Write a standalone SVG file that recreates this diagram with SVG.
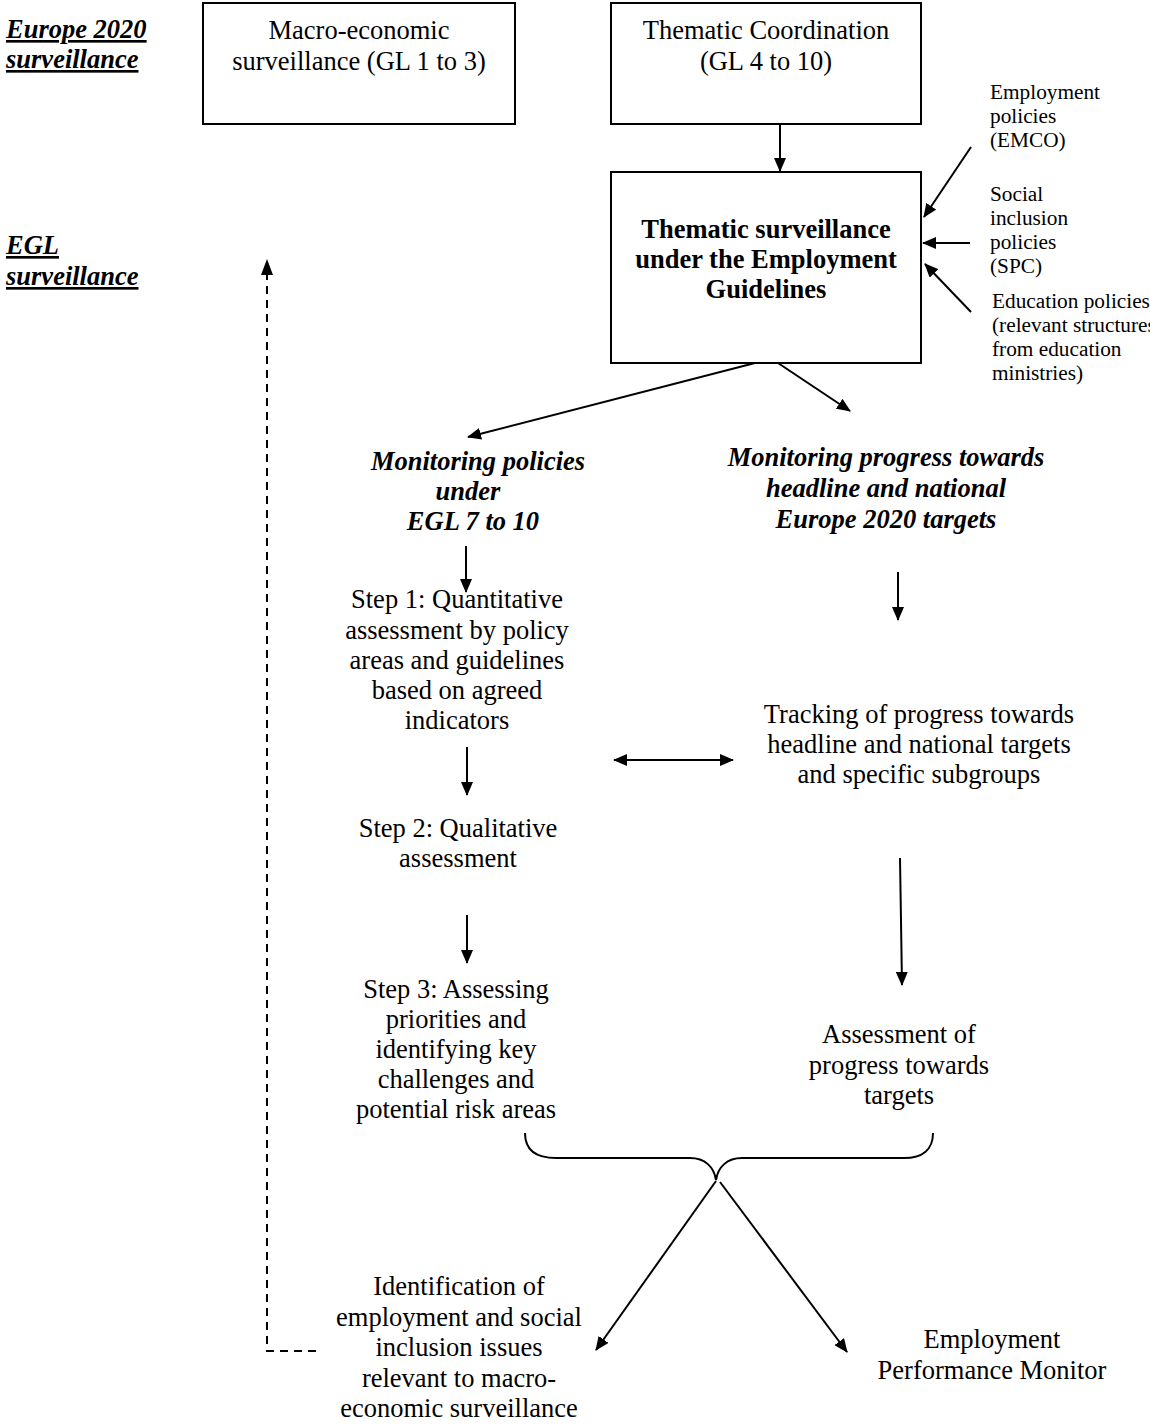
<svg xmlns="http://www.w3.org/2000/svg" width="1150" height="1426" viewBox="0 0 1150 1426">
<defs>
<marker id="ah" viewBox="0 0 14 12" refX="13" refY="6" markerWidth="14" markerHeight="12" markerUnits="userSpaceOnUse" orient="auto-start-reverse">
<path d="M0,0 L14,6 L0,12 z" fill="#000"/>
</marker>
<style>
text{font-family:"Liberation Serif","Times New Roman",serif;fill:#000}
.t{font-size:26.5px;text-anchor:middle}
.b{font-weight:bold}
.bi{font-weight:bold;font-style:italic}
.hd{font-size:26.5px;font-weight:bold;font-style:italic;text-decoration:underline}
.s{font-size:21.3px}
.box{fill:#fff;stroke:#000;stroke-width:2}
.c{fill:none;stroke:#000;stroke-width:2}
.a{marker-end:url(#ah)}
.d{fill:none;stroke:#000;stroke-width:2;stroke-dasharray:8,6}
</style>
</defs>
<rect width="1150" height="1426" fill="#fff"/>

<g id="label-europe2020">
<text class="hd" x="6" y="38">Europe 2020</text>
<text class="hd" x="6" y="68">surveillance</text>
</g>
<g id="label-egl">
<text class="hd" x="6" y="254">EGL</text>
<text class="hd" x="6" y="285">surveillance</text>
</g>

<g id="node-macro">
<rect class="box" x="203" y="3" width="312" height="121"/>
<text class="t" x="359" y="39">Macro-economic</text>
<text class="t" x="359" y="70">surveillance (GL 1 to 3)</text>
</g>

<g id="node-thematic-coordination">
<rect class="box" x="611" y="3" width="310" height="121"/>
<text class="t" x="766" y="39">Thematic Coordination</text>
<text class="t" x="766" y="70">(GL 4 to 10)</text>
</g>

<g id="node-thematic-surveillance">
<rect class="box" x="611" y="172" width="310" height="191"/>
<text class="t b" x="766" y="238">Thematic surveillance</text>
<text class="t b" x="766" y="268">under the Employment</text>
<text class="t b" x="766" y="298">Guidelines</text>
</g>

<g id="node-emco">
<text class="s" x="990" y="99">Employment</text>
<text class="s" x="990" y="123">policies</text>
<text class="s" x="990" y="147">(EMCO)</text>
</g>
<g id="node-spc">
<text class="s" x="990" y="201">Social</text>
<text class="s" x="990" y="225">inclusion</text>
<text class="s" x="990" y="249">policies</text>
<text class="s" x="990" y="273">(SPC)</text>
</g>
<g id="node-education">
<text class="s" x="992" y="308">Education policies</text>
<text class="s" x="992" y="332">(relevant structures</text>
<text class="s" x="992" y="356">from education</text>
<text class="s" x="992" y="380">ministries)</text>
</g>

<g id="node-monitoring-policies">
<text class="t bi" x="478" y="470">Monitoring policies</text>
<text class="t bi" x="468" y="500">under</text>
<text class="t bi" x="473" y="530">EGL 7 to 10</text>
</g>

<g id="node-monitoring-progress">
<text class="t bi" x="886" y="466">Monitoring progress towards</text>
<text class="t bi" x="886" y="497">headline and national</text>
<text class="t bi" x="886" y="528">Europe 2020 targets</text>
</g>

<g id="node-step1">
<text class="t" x="457" y="608">Step 1: Quantitative</text>
<text class="t" x="457" y="638.5">assessment by policy</text>
<text class="t" x="457" y="669">areas and guidelines</text>
<text class="t" x="457" y="699">based on agreed</text>
<text class="t" x="457" y="729">indicators</text>
</g>

<g id="node-tracking">
<text class="t" x="919" y="723">Tracking of progress towards</text>
<text class="t" x="919" y="753">headline and national targets</text>
<text class="t" x="919" y="783">and specific subgroups</text>
</g>

<g id="node-step2">
<text class="t" x="458" y="837">Step 2: Qualitative</text>
<text class="t" x="458" y="867">assessment</text>
</g>

<g id="node-step3">
<text class="t" x="456" y="998">Step 3: Assessing</text>
<text class="t" x="456" y="1028">priorities and</text>
<text class="t" x="456" y="1058">identifying key</text>
<text class="t" x="456" y="1088">challenges and</text>
<text class="t" x="456" y="1118">potential risk areas</text>
</g>

<g id="node-assessment-progress">
<text class="t" x="899" y="1043">Assessment of</text>
<text class="t" x="899" y="1074">progress towards</text>
<text class="t" x="899" y="1104">targets</text>
</g>

<g id="node-identification">
<text class="t" x="459" y="1295">Identification of</text>
<text class="t" x="459" y="1325.5">employment and social</text>
<text class="t" x="459" y="1356">inclusion issues</text>
<text class="t" x="459" y="1386.5">relevant to macro-</text>
<text class="t" x="459" y="1417">economic surveillance</text>
</g>

<g id="node-epm">
<text class="t" x="992" y="1348">Employment</text>
<text class="t" x="992" y="1379">Performance Monitor</text>
</g>

<g id="connectors">
<line class="c a" x1="780" y1="124" x2="780" y2="171"/>
<line class="c a" x1="971" y1="147" x2="924" y2="217"/>
<line class="c a" x1="970" y1="243" x2="923" y2="243"/>
<line class="c a" x1="971" y1="312" x2="925" y2="264"/>
<line class="c a" x1="755" y1="363" x2="468" y2="437"/>
<line class="c a" x1="778" y1="363" x2="850" y2="411"/>
<line class="c a" x1="466" y1="546" x2="466" y2="592"/>
<line class="c a" x1="898" y1="572" x2="898" y2="620"/>
<line class="c a" x1="467" y1="747" x2="467" y2="795"/>
<line class="c a" x1="614" y1="760" x2="733" y2="760" marker-start="url(#ah)"/>
<line class="c a" x1="900" y1="858" x2="902" y2="985"/>
<line class="c a" x1="467" y1="915" x2="467" y2="963"/>
<path class="c" d="M525,1133 C525,1150 535,1158 556,1158 L690,1158 C705,1158 714,1167 716,1180 C718,1167 727,1158 742,1158 L904,1158 C922,1158 933,1150 933,1133"/>
<line class="c a" x1="716" y1="1181" x2="596" y2="1350"/>
<line class="c a" x1="720" y1="1182" x2="847" y2="1352"/>
<polyline class="d" points="316,1351 267,1351 267,272"/>
<path d="M267,259 L273,275 L261,275 z" fill="#000"/>
</g>
</svg>
